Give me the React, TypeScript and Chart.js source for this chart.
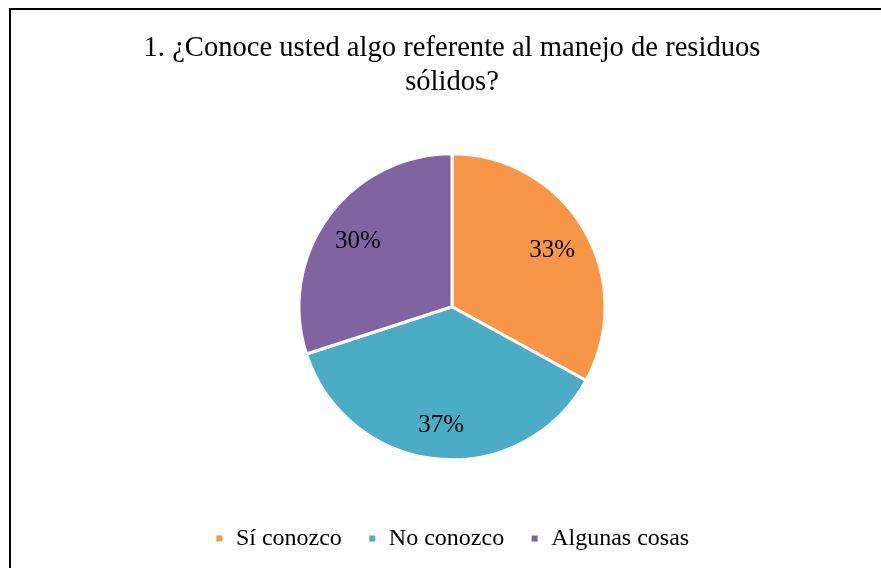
import React, { useEffect, useRef } from "react";
import { Chart, registerables } from "chart.js";

Chart.register(...registerables);

const titleLines = ["1. ¿Conoce usted algo referente al manejo de residuos", "sólidos?"];
const categories = ["Sí conozco", "No conozco", "Algunas cosas"];
const percentages = [33, 37, 30];
const colors = ["#F79646", "#4BACC6", "#8064A2"];

const FONT = "'Liberation Serif', 'Times New Roman', serif";

const sliceLabels = {
  id: "sliceLabels",
  afterDatasetsDraw(chart: any) {
    const ctx = chart.ctx;
    const meta = chart.getDatasetMeta(0);
    const data = chart.data.datasets[0].data as number[];
    ctx.save();
    ctx.font = `25px ${FONT}`;
    ctx.fillStyle = "#000";
    ctx.textAlign = "center";
    ctx.textBaseline = "middle";
    meta.data.forEach((arc: any, i: number) => {
      const { x, y, startAngle, endAngle, outerRadius } = arc.getProps(
        ["x", "y", "startAngle", "endAngle", "outerRadius"],
        true
      );
      const mid = (startAngle + endAngle) / 2;
      const r = outerRadius * 0.76;
      ctx.fillText(`${data[i]}%`, x + Math.cos(mid) * r, y + Math.sin(mid) * r + 3);
    });
    ctx.restore();
  },
};

export default function App() {
  const ref = useRef<HTMLCanvasElement>(null);
  useEffect(() => {
    if (!ref.current) return;
    const chart = new Chart(ref.current, {
      type: "pie",
      data: {
        labels: categories,
        datasets: [
          {
            data: percentages,
            backgroundColor: colors,
            borderColor: "#ffffff",
            borderWidth: 3,
            radius: 153,
          },
        ],
      },
      options: {
        responsive: true,
        maintainAspectRatio: false,
        animation: false,
        layout: { padding: { top: 0, bottom: 7.5, left: 0, right: 0 } },
        plugins: {
          title: {
            display: true,
            text: titleLines,
            color: "#000",
            font: { family: FONT, size: 28.6, weight: "normal", lineHeight: 1.18 },
            padding: { top: 21, bottom: 13.5 },
          },
          legend: {
            display: true,
            position: "bottom",
            labels: {
              color: "#000",
              font: { family: FONT, size: 24 },
              boxWidth: 9,
              boxHeight: 9,
              padding: 26,
            },
          },
          tooltip: { enabled: false },
        },
      },
      plugins: [sliceLabels],
    });
    return () => chart.destroy();
  }, []);

  return (
    <div style={{ position: "fixed", left: 0, top: 0, width: 881, height: 568, overflow: "hidden", background: "#fff" }}>
      <div
        style={{
          position: "absolute",
          left: 9,
          top: 8,
          width: 900,
          height: 600,
          borderLeft: "2px solid #000",
          borderTop: "2px solid #000",
          boxSizing: "border-box",
        }}
      />
      <div style={{ position: "absolute", left: 11, top: 11, width: 882, height: 557 }}>
        <canvas ref={ref} />
      </div>
    </div>
  );
}
